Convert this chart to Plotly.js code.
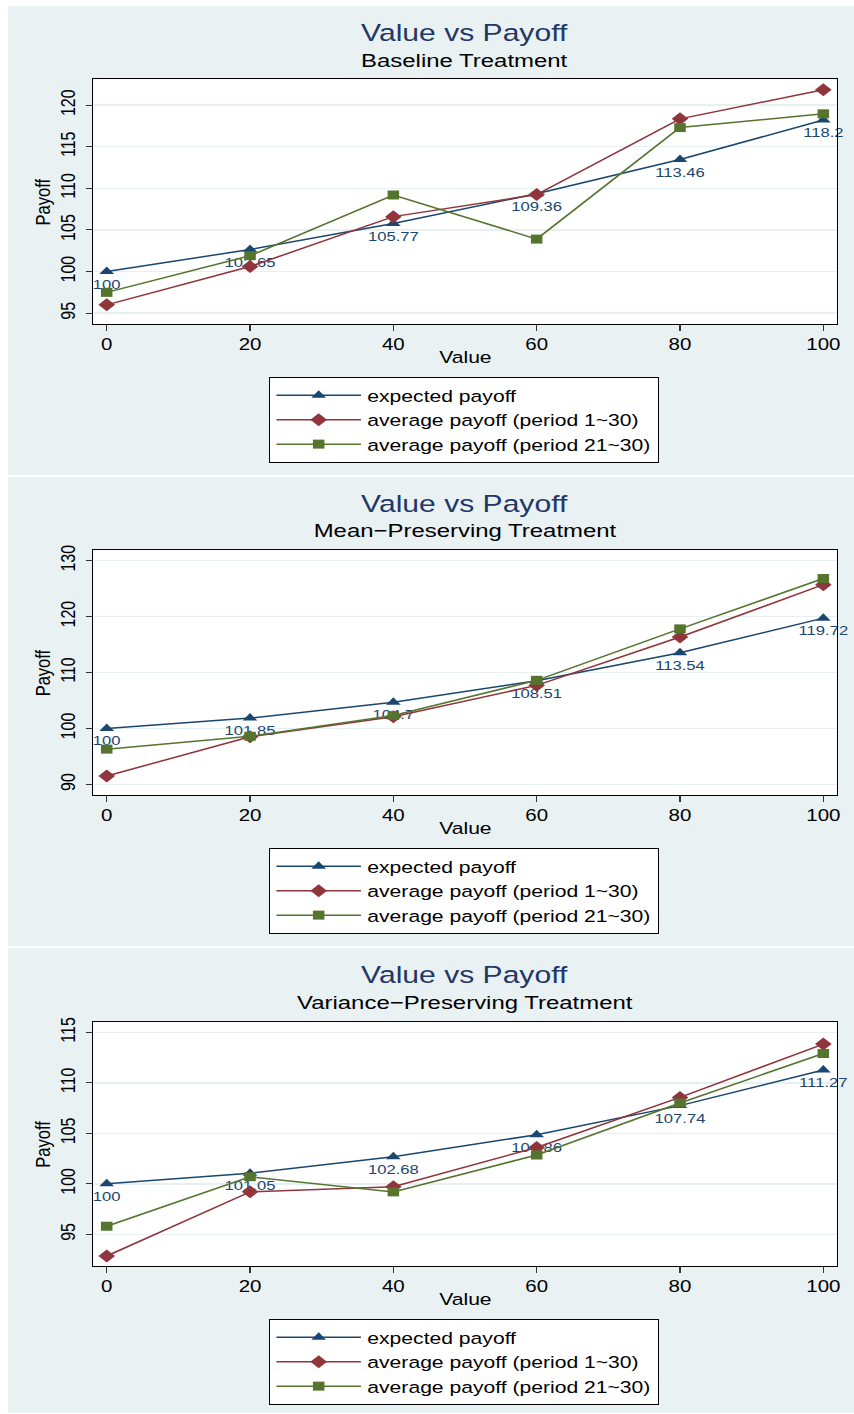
<!DOCTYPE html>
<html>
<head>
<meta charset="utf-8">
<script src="https://cdn.plot.ly/plotly-3.0.1.min.js"></script>
<style>
  html, body { margin: 0; padding: 0; background: #ffffff; overflow: hidden; }
  #wrap { width: 667px; height: 1414px; transform: scaleX(1.2804); transform-origin: 0 0; }
  #chart { width: 667px; height: 1414px; }
</style>
</head>
<body>
<div id="wrap"><div id="chart"></div></div>
<script>
// ---- data ----
const xValues = [0, 20, 40, 60, 80, 100];
const xTickVals = [0, 20, 40, 60, 80, 100];

const seriesNames = ["expected payoff", "average payoff (period 1~30)", "average payoff (period 21~30)"];
const mainTitle = "Value vs Payoff";
const panelTitles = ["Baseline Treatment", "Mean\u2212Preserving Treatment", "Variance\u2212Preserving Treatment"];
const xAxisTitle = "Value";
const yAxisTitle = "Payoff";

const baselineExpected = [100, 102.65, 105.77, 109.36, 113.46, 118.2];
const baselineAvg1to30 = [96.0, 100.6, 106.6, 109.25, 118.35, 121.85];
const baselineAvg21to30 = [97.5, 101.9, 109.2, 103.9, 117.3, 118.95];

const meanExpected = [100, 101.85, 104.7, 108.51, 113.54, 119.72];
const meanAvg1to30 = [91.5, 98.5, 102.1, 107.7, 116.35, 125.7];
const meanAvg21to30 = [96.3, 98.6, 102.3, 108.6, 117.8, 126.8];

const varExpected = [100, 101.05, 102.68, 104.86, 107.74, 111.27];
const varAvg1to30 = [92.85, 99.2, 99.7, 103.6, 108.55, 113.83];
const varAvg21to30 = [95.8, 100.7, 99.2, 102.85, 108.0, 112.9];

const yTicks1 = [95, 100, 105, 110, 115, 120];
const yTicks2 = [90, 100, 110, 120, 130];
const yTicks3 = [95, 100, 105, 110, 115];

// ---- styling ----
const W = 667, H = 1414, SX = 854; // SX: photographed width (scaled)
const colors = ["#1a476f", "#90353b", "#55752f"];
const symbols = ["triangle-up", "diamond", "square"];
const msizes = [10, 10, 9];
const panelBg = "#e9f1f3";
const FONT = "Liberation Sans, Arial, Helvetica, sans-serif";

function px2x(p) { return p / SX; }
function py2y(p) { return 1 - p / H; }

const panels = [
  { exp: baselineExpected, a: baselineAvg1to30, b: baselineAvg21to30, top: 6, plotTop: 79.3, plotBot: 324, range: [93.7, 123.1], ticks: yTicks1 },
  { exp: meanExpected, a: meanAvg1to30, b: meanAvg21to30, top: 477, plotTop: 550, plotBot: 795, range: [88.1, 131.9], ticks: yTicks2 },
  { exp: varExpected, a: varAvg1to30, b: varAvg21to30, top: 948, plotTop: 1021.7, plotBot: 1266, range: [91.86, 116.05], ticks: yTicks3 }
];

const plotLeft = 93.3, plotRight = 836.7;
const xDomain = [px2x(plotLeft), px2x(plotRight)];
const xCenter = (xDomain[0] + xDomain[1]) / 2;

const traces = [];
const layout = {
  width: W, height: H,
  margin: { l: 0, r: 0, t: 0, b: 0, pad: 0 },
  paper_bgcolor: panelBg,
  plot_bgcolor: "#ffffff",
  font: { family: FONT, color: "#000000" },
  showlegend: true,
  annotations: [],
  shapes: []
};

// white gaps around / between the panels
const whiteBands = [[0, 6], [475, 477], [946, 948], [1413, 1414]];
whiteBands.forEach(function (b) {
  layout.shapes.push({ type: "rect", xref: "paper", yref: "paper", x0: 0, x1: 1, y0: py2y(b[1]), y1: py2y(b[0]), fillcolor: "#ffffff", line: { width: 0 }, layer: "below" });
});
layout.shapes.push({ type: "rect", xref: "paper", yref: "paper", x0: 0, x1: px2x(8), y0: 0, y1: 1, fillcolor: "#ffffff", line: { width: 0 }, layer: "below" });

panels.forEach(function (p, i) {
  const n = i + 1;
  const xa = n === 1 ? "x" : "x" + n;
  const ya = n === 1 ? "y" : "y" + n;
  const legName = n === 1 ? "legend" : "legend" + n;
  const series = [p.exp, p.a, p.b];
  series.forEach(function (ys, k) {
    const t = {
      type: "scatter",
      x: xValues, y: ys,
      xaxis: xa, yaxis: ya,
      name: seriesNames[k],
      legend: legName,
      mode: k === 0 ? "lines+markers+text" : "lines+markers",
      line: { color: colors[k], width: 1.5 },
      marker: { symbol: symbols[k], size: msizes[k], color: colors[k] },
      cliponaxis: false,
      hoverinfo: "x+y"
    };
    if (k === 0) {
      t.text = ys.map(function (v) { return String(v); });
      t.textposition = "bottom center";
      t.textfont = { family: FONT, size: 13, color: colors[0] };
    }
    traces.push(t);
  });

  const yDomain = [py2y(p.plotBot), py2y(p.plotTop)];
  layout["xaxis" + (n === 1 ? "" : n)] = {
    domain: xDomain, anchor: ya,
    range: [-1.87, 101.87],
    tickmode: "array", tickvals: xTickVals,
    ticks: "outside", ticklen: 6, tickwidth: 1, tickcolor: "#333333",
    tickfont: { family: FONT, size: 16, color: "#000000" },
    showgrid: false, zeroline: false,
    showline: true, linecolor: "#000000", linewidth: 1, mirror: true,
    automargin: false, fixedrange: true
  };
  layout["yaxis" + (n === 1 ? "" : n)] = {
    domain: yDomain, anchor: xa,
    range: p.range,
    tickmode: "array", tickvals: p.ticks,
    tickangle: -90,
    ticks: "outside", ticklen: 5, tickwidth: 1, tickcolor: "#333333",
    ticklabelstandoff: 2,
    tickfont: { family: FONT, size: 16, color: "#000000" },
    showgrid: true, gridcolor: "#e6eff1", gridwidth: 1.5,
    zeroline: false,
    showline: true, linecolor: "#000000", linewidth: 1, mirror: true,
    automargin: false, fixedrange: true
  };

  layout[legName] = {
    x: px2x(464), xanchor: "center", xref: "paper",
    y: py2y(p.top + 371), yanchor: "top", yref: "paper",
    bgcolor: "#ffffff", bordercolor: "#000000", borderwidth: 1,
    font: { family: FONT, size: 16.5, color: "#000000" },
    tracegroupgap: 0, itemwidth: 66, traceorder: "normal"
  };

  // titles
  layout.annotations.push({ text: mainTitle, xref: "paper", yref: "paper", x: xCenter, y: py2y(p.top + 27), xanchor: "center", yanchor: "middle", showarrow: false, font: { family: FONT, size: 23.5, color: "#1f3868" } });
  layout.annotations.push({ text: panelTitles[i], xref: "paper", yref: "paper", x: xCenter, y: py2y(p.top + 54), xanchor: "center", yanchor: "middle", showarrow: false, font: { family: FONT, size: 18.7, color: "#000000" } });
  // axis titles
  layout.annotations.push({ text: xAxisTitle, xref: "paper", yref: "paper", x: xCenter, y: py2y(p.top + 351), xanchor: "center", yanchor: "middle", showarrow: false, font: { family: FONT, size: 16.5, color: "#000000" } });
  layout.annotations.push({ text: yAxisTitle, xref: "paper", yref: "paper", x: px2x(42), y: py2y((p.plotTop + p.plotBot) / 2), xanchor: "center", yanchor: "middle", textangle: -90, showarrow: false, font: { family: FONT, size: 16.5, color: "#000000" } });
});

Plotly.newPlot("chart", traces, layout, { staticPlot: true, displayModeBar: false });
</script>
</body>
</html>
